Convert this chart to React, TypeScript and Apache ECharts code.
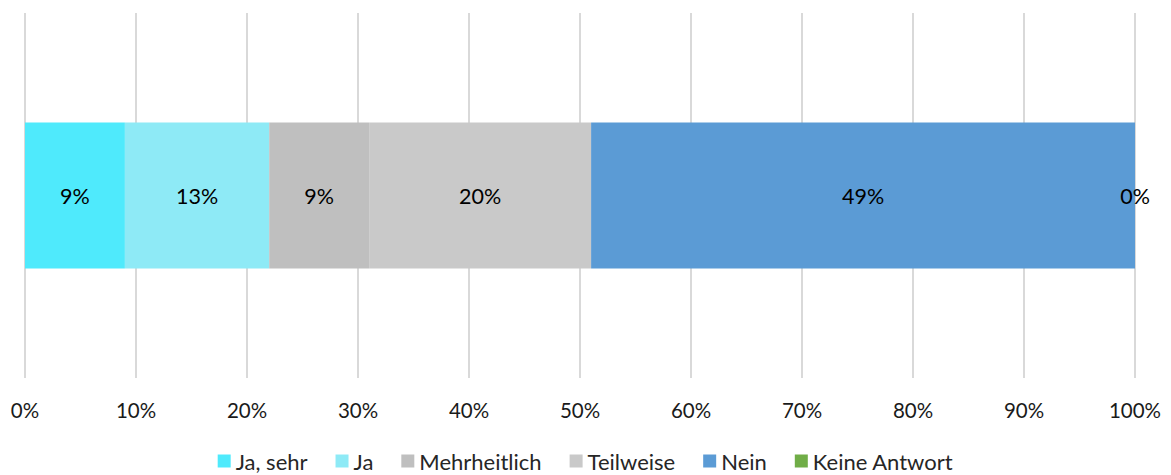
import React, { useEffect, useRef } from "react";
import * as echarts from "echarts";

const categories = ["Antwort"];
const seriesNames = ["Ja, sehr", "Ja", "Mehrheitlich", "Teilweise", "Nein", "Keine Antwort"];
const seriesValues = [9, 13, 9, 20, 49, 0];
const seriesColors = ["#4FEAFC", "#8EEAF6", "#BFBFBF", "#C9C9C9", "#5B9BD5", "#70AD47"];
const FONT = "Lato";

export default function App() {
  const ref = useRef<HTMLDivElement>(null);
  useEffect(() => {
    document.body.style.margin = "0";
    const chart = echarts.init(ref.current!, null, { renderer: "svg" });
    chart.setOption({
      animation: false,
      backgroundColor: "#ffffff",
      textStyle: { fontFamily: FONT },
      grid: { left: 25, right: 36, top: 13, bottom: 97, containLabel: false, outerBoundsMode: "none" },
      legend: {
        top: 450,
        left: "center",
        padding: 0,
        itemWidth: 13,
        itemHeight: 13,
        itemGap: 28,
        icon: "rect",
        textStyle: { fontFamily: FONT, fontSize: 22, color: "#262626" },
        data: seriesNames,
      },
      xAxis: {
        type: "value",
        min: 0,
        max: 100,
        interval: 10,
        axisLine: { show: false },
        axisTick: { show: false },
        axisLabel: { formatter: "{value}%", fontFamily: FONT, fontSize: 20.5, color: "#1a1a1a", margin: 21 },
        splitLine: { show: true, lineStyle: { color: "#D9D9D9", width: 2 } },
      },
      yAxis: {
        type: "category",
        data: categories,
        show: false,
      },
      series: seriesNames.map((name, i) => ({
        name,
        type: "bar",
        stack: "total",
        barWidth: "40%",
        data: [seriesValues[i]],
        itemStyle: { color: seriesColors[i] },
        label: {
          show: true,
          position: "inside",
          formatter: "{c}%",
          fontFamily: FONT,
          fontSize: 21.5,
          color: "#000000",
        },
      })),
    });
    return () => chart.dispose();
  }, []);
  return <div ref={ref} style={{ position: "absolute", left: 0, top: 0, width: 1171, height: 475 }} />;
}
